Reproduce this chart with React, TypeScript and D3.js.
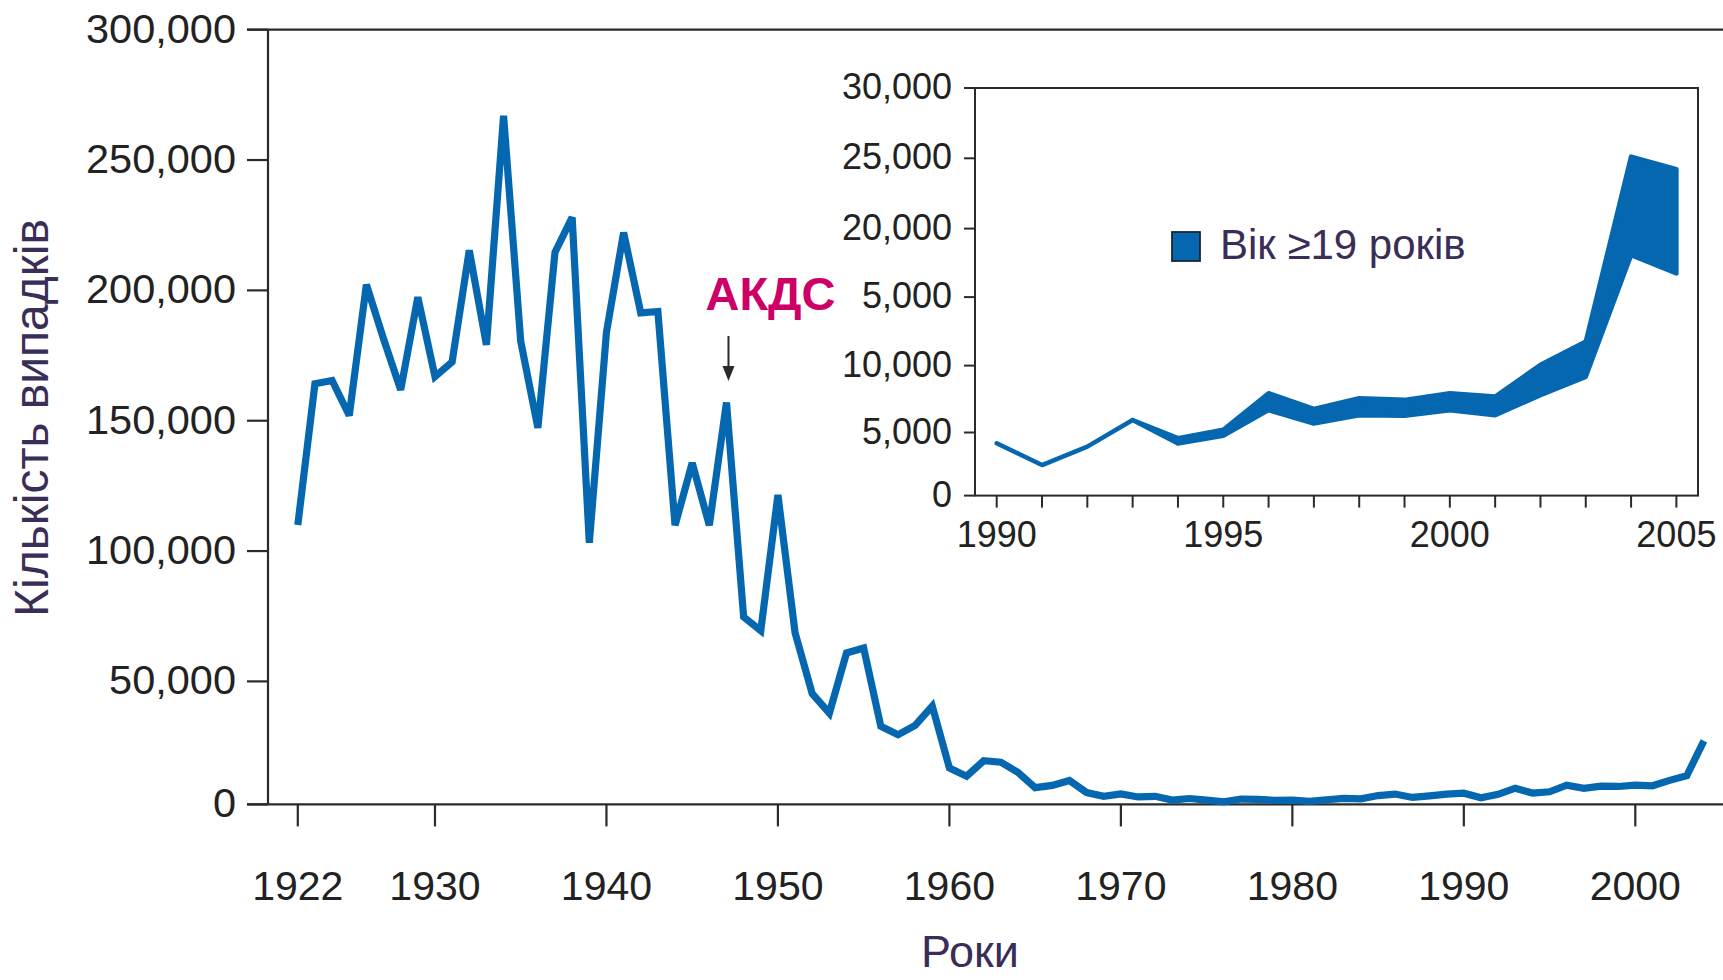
import React from "react";
import * as d3 from "d3";

// ---------- DATA ----------
const MAIN_START_YEAR = 1922;
const mainCases = [
  110000, 164191, 165418, 152003, 202210, 181411, 161799, 197371, 166914, 172559,
  215343, 179135, 267000, 180518, 147237, 214652, 228000, 103188, 183866, 222202,
  191383, 191890, 109873, 133792, 109860, 157000, 74715, 69479, 121500, 68687,
  45030, 37129, 60886, 62786, 31732, 28295, 32148, 40005, 14809, 11468,
  17749, 17135, 13005, 6799, 7717, 9718, 4810, 3285, 4249, 3036,
  3287, 1759, 2402, 1738, 1010, 2177, 2063, 1623, 1730, 1248,
  1895, 2463, 2276, 3589, 4195, 2823, 3450, 4157, 4570, 2719,
  4083, 6586, 4617, 5137, 7796, 6564, 7405, 7288, 7867, 7580,
  9771, 11647, 25827,
];
const mainYTicks = [0, 50000, 100000, 150000, 200000, 250000, 300000];
const mainXTicks = [1922, 1930, 1940, 1950, 1960, 1970, 1980, 1990, 2000];

const insetYears = [1990, 1991, 1992, 1993, 1994, 1995, 1996, 1997, 1998, 1999, 2000, 2001, 2002, 2003, 2004, 2005];
const insetUpper = [4150, 2420, 3880, 5930, 4550, 5200, 7940, 6770, 7560, 7440, 7940, 7690, 10060, 11760, 25120, 24220];
const insetLower = [4150, 2420, 3880, 5930, 4130, 4740, 6670, 5670, 6290, 6250, 6670, 6290, 7790, 9160, 18060, 16720];
const insetYTicks = [0, 5000, 10000, 15000, 20000, 25000, 30000];
const insetYTickLabels = ["0", "5,000", "10,000", "5,000", "20,000", "25,000", "30,000"];
const insetXLabels = [1990, 1995, 2000, 2005];

const yAxisTitle = "Кількість випадків";
const xAxisTitle = "Роки";
const annotationText = "АКДС";
const annotationYear = 1947;
const legendText = "Вік ≥19 років";

// ---------- STYLE ----------
const BLUE = "#0567b0";
const AXIS = "#2a2a2a";
const TEXT = "#222222";
const PURPLE = "#3a2d57";
const MAGENTA = "#cc0066";
const FONT = "'Liberation Sans', Arial, Helvetica, sans-serif";

export default function App() {
  const W = 1723;
  const H = 980;

  // main scales
  const x = d3.scaleLinear().domain([1922, 2000]).range([297.8, 1635.3]);
  const y = d3.scaleLinear().domain([0, 50000, 300000]).range([804.4, 681.4, 29.7]);
  const axisX0 = 268;
  const fmt = d3.format(",");

  const mainLine = d3
    .line<number>()
    .x((_, i) => x(MAIN_START_YEAR + i))
    .y((d) => y(d));

  // inset scales
  const ix = d3.scaleLinear().domain([1990, 2005]).range([996.7, 1676.4]);
  const iy = d3
    .scaleLinear()
    .domain([0, 5000, 10000, 20000, 30000])
    .range([495.6, 432.5, 365.6, 228.6, 88]);
  const insetLeft = 975;
  const insetRight = 1698;
  const insetTop = 88;
  const insetBottom = 495.6;

  const band = d3
    .area<number>()
    .x((_, i) => ix(insetYears[i]))
    .y0((_, i) => iy(insetLower[i]))
    .y1((d) => iy(d));

  const ax = x(annotationYear);

  return (
    <svg
      width={W}
      height={H}
      style={{ position: "absolute", left: 0, top: 0, background: "#fff" }}
      fontFamily={FONT}
    >
      <rect x={0} y={0} width={W} height={H} fill="#fff" />

      {/* main frame: top line, left axis, bottom axis */}
      <line x1={247} x2={W} y1={y(300000)} y2={y(300000)} stroke={AXIS} strokeWidth={2.2} />
      <line x1={axisX0} x2={axisX0} y1={y(300000)} y2={y(0)} stroke={AXIS} strokeWidth={2.2} />
      <line x1={247} x2={W} y1={y(0)} y2={y(0)} stroke={AXIS} strokeWidth={2.2} />

      {/* y ticks */}
      {mainYTicks.map((t) => (
        <g key={"yt" + t}>
          <line x1={247} x2={axisX0} y1={y(t)} y2={y(t)} stroke={AXIS} strokeWidth={2.2} />
          <text x={236} y={y(t) + 13} textAnchor="end" fontSize={41.5} fill={TEXT}>
            {fmt(t)}
          </text>
        </g>
      ))}

      {/* x ticks */}
      {mainXTicks.map((t) => (
        <g key={"xt" + t}>
          <line x1={x(t)} x2={x(t)} y1={y(0)} y2={y(0) + 22} stroke={AXIS} strokeWidth={2.2} />
          <text x={x(t)} y={900} textAnchor="middle" fontSize={41} fill={TEXT}>
            {t}
          </text>
        </g>
      ))}

      {/* axis titles */}
      <text
        transform={`translate(48, 418) rotate(-90)`}
        textAnchor="middle"
        fontSize={48}
        fill={PURPLE}
      >
        {yAxisTitle}
      </text>
      <text x={970} y={967} textAnchor="middle" fontSize={45} fill={PURPLE}>
        {xAxisTitle}
      </text>

      {/* main series */}
      <path
        d={mainLine(mainCases) || ""}
        fill="none"
        stroke={BLUE}
        strokeWidth={7.2}
        strokeLinejoin="miter"
        strokeMiterlimit={3}
      />

      {/* annotation */}
      <text x={ax + 44} y={310} textAnchor="middle" fontSize={47} fontWeight="bold" fill={MAGENTA}>
        {annotationText}
      </text>
      <line x1={ax + 2} x2={ax + 2} y1={336} y2={368} stroke={AXIS} strokeWidth={2} />
      <path
        d={`M${ax + 2 - 6},${366} L${ax + 2 + 6},${366} L${ax + 2},${381} Z`}
        fill={AXIS}
      />

      {/* inset */}
      <rect
        x={insetLeft}
        y={insetTop}
        width={insetRight - insetLeft}
        height={insetBottom - insetTop}
        fill="none"
        stroke={AXIS}
        strokeWidth={2}
      />
      {insetYTicks.map((t, i) => (
        <g key={"iyt" + t}>
          <line x1={964} x2={insetLeft} y1={iy(t)} y2={iy(t)} stroke={AXIS} strokeWidth={2} />
          <text x={952} y={iy(t) + 11} textAnchor="end" fontSize={36} fill={TEXT}>
            {insetYTickLabels[i]}
          </text>
        </g>
      ))}
      {insetYears.map((t) => (
        <line
          key={"ixt" + t}
          x1={ix(t)}
          x2={ix(t)}
          y1={insetBottom}
          y2={insetBottom + 12}
          stroke={AXIS}
          strokeWidth={2}
        />
      ))}
      {insetXLabels.map((t) => (
        <text key={"ixl" + t} x={ix(t)} y={547} textAnchor="middle" fontSize={36} fill={TEXT}>
          {t}
        </text>
      ))}

      <path
        d={band(insetUpper) || ""}
        fill={BLUE}
        stroke={BLUE}
        strokeWidth={4.5}
        strokeLinejoin="round"
      />

      {/* legend */}
      <rect x={1172} y={232} width={28} height={29} fill={BLUE} stroke="#1b2533" strokeWidth={1.8} />
      <text x={1220} y={259} fontSize={42} fill={PURPLE}>
        {legendText}
      </text>
    </svg>
  );
}
